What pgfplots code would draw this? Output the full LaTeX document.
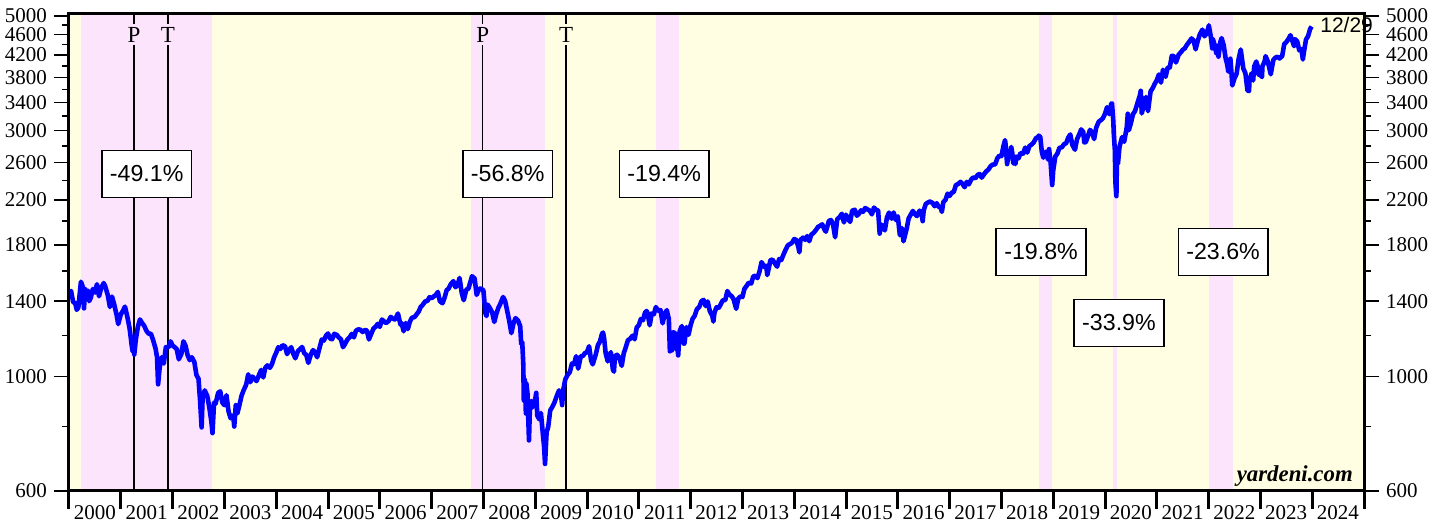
\documentclass[border=0pt]{standalone}
\usepackage{fontspec}
\setmainfont{Liberation Serif}
\setsansfont{Liberation Sans}
\usepackage{pgfplots}
\usepackage{pgfplotstable}
\pgfplotsset{compat=1.18}
\definecolor{bgy}{RGB}{255,254,226}
\definecolor{bearpink}{RGB}{252,228,252}

\pgfplotstableread{
x y
2000.00 1455
2000.04 1465
2000.08 1394
2000.12 1388
2000.15 1347
2000.18 1360
2000.21 1456
2000.23 1527
2000.26 1499
2000.29 1356
2000.31 1480
2000.34 1452
2000.37 1466
2000.39 1400
2000.42 1421
2000.46 1478
2000.50 1455
2000.54 1510
2000.58 1431
2000.62 1484
2000.67 1518
2000.70 1495
2000.75 1437
2000.79 1364
2000.83 1429
2000.87 1383
2000.92 1315
2000.95 1264
2001.00 1320
2001.04 1340
2001.08 1366
2001.12 1315
2001.17 1240
2001.21 1150
2001.23 1118
2001.25 1160
2001.26 1103
2001.29 1180
2001.33 1249
2001.37 1290
2001.41 1270
2001.45 1255
2001.50 1224
2001.54 1210
2001.58 1211
2001.62 1180
2001.67 1134
2001.70 1090
2001.72 966
2001.75 1041
2001.79 1090
2001.83 1060
2001.87 1140
2001.92 1139
2001.96 1170
2002.00 1148
2002.04 1140
2002.08 1130
2002.12 1080
2002.17 1107
2002.21 1170
2002.25 1147
2002.29 1100
2002.33 1076
2002.37 1090
2002.42 1067
2002.46 1007
2002.50 990
2002.53 900
2002.56 797
2002.58 912
2002.62 940
2002.67 916
2002.71 870
2002.75 815
2002.77 777
2002.80 890
2002.83 886
2002.88 930
2002.92 936
2002.96 890
2003.00 880
2003.04 920
2003.08 856
2003.12 830
2003.17 841
2003.19 800
2003.22 880
2003.25 848
2003.29 880
2003.33 917
2003.37 940
2003.42 964
2003.46 1010
2003.50 975
2003.54 1000
2003.58 990
2003.62 980
2003.67 1008
2003.71 1030
2003.75 996
2003.79 1040
2003.83 1051
2003.88 1040
2003.92 1058
2003.96 1090
2004.00 1112
2004.04 1140
2004.08 1131
2004.12 1150
2004.17 1145
2004.21 1105
2004.25 1126
2004.29 1140
2004.33 1107
2004.37 1085
2004.42 1121
2004.46 1130
2004.50 1141
2004.54 1110
2004.58 1102
2004.62 1063
2004.67 1104
2004.71 1125
2004.75 1115
2004.79 1090
2004.83 1130
2004.88 1180
2004.92 1174
2004.96 1200
2005.00 1212
2005.04 1185
2005.08 1181
2005.12 1210
2005.17 1204
2005.21 1190
2005.25 1181
2005.29 1140
2005.33 1157
2005.37 1178
2005.42 1192
2005.46 1210
2005.50 1191
2005.54 1227
2005.58 1234
2005.62 1233
2005.67 1220
2005.71 1230
2005.75 1229
2005.79 1180
2005.83 1207
2005.88 1240
2005.92 1249
2005.96 1265
2006.00 1248
2006.04 1290
2006.08 1280
2006.12 1270
2006.17 1281
2006.21 1305
2006.25 1295
2006.29 1290
2006.33 1311
2006.35 1325
2006.40 1260
2006.42 1270
2006.46 1224
2006.50 1270
2006.54 1236
2006.58 1277
2006.62 1300
2006.67 1304
2006.71 1320
2006.75 1336
2006.79 1365
2006.83 1378
2006.88 1400
2006.92 1401
2006.96 1425
2007.00 1418
2007.04 1430
2007.08 1438
2007.12 1459
2007.16 1400
2007.21 1387
2007.25 1421
2007.29 1470
2007.33 1482
2007.37 1510
2007.42 1531
2007.46 1490
2007.50 1503
2007.54 1553
2007.58 1455
2007.62 1406
2007.67 1474
2007.71 1480
2007.75 1527
2007.78 1565
2007.83 1549
2007.87 1440
2007.92 1481
2007.96 1480
2008.00 1468
2008.04 1325
2008.06 1310
2008.08 1379
2008.12 1360
2008.17 1331
2008.21 1276
2008.25 1323
2008.29 1360
2008.33 1386
2008.38 1426
2008.42 1400
2008.46 1340
2008.50 1280
2008.54 1214
2008.58 1267
2008.62 1298
2008.67 1283
2008.71 1252
2008.73 1156
2008.75 1166
2008.77 1056
2008.78 899
2008.80 985
2008.82 848
2008.83 969
2008.85 930
2008.88 752
2008.90 888
2008.92 896
2008.94 870
2008.96 890
2009.00 903
2009.02 930
2009.04 840
2009.08 826
2009.11 850
2009.15 770
2009.17 735
2009.19 677
2009.22 780
2009.25 798
2009.29 860
2009.33 873
2009.37 890
2009.42 919
2009.46 940
2009.50 919
2009.52 880
2009.54 940
2009.58 987
2009.62 1005
2009.67 1021
2009.71 1060
2009.75 1057
2009.79 1095
2009.83 1036
2009.88 1095
2009.92 1096
2009.96 1110
2010.00 1115
2010.04 1145
2010.08 1074
2010.11 1056
2010.17 1104
2010.21 1150
2010.25 1169
2010.29 1211
2010.31 1217
2010.33 1187
2010.36 1110
2010.40 1070
2010.42 1089
2010.46 1115
2010.50 1031
2010.52 1022
2010.54 1095
2010.58 1102
2010.62 1090
2010.67 1049
2010.71 1110
2010.75 1141
2010.79 1176
2010.83 1183
2010.88 1200
2010.92 1181
2010.96 1245
2011.00 1258
2011.04 1293
2011.08 1286
2011.12 1330
2011.15 1340
2011.17 1327
2011.21 1257
2011.25 1326
2011.29 1320
2011.33 1364
2011.37 1340
2011.42 1345
2011.46 1268
2011.50 1321
2011.54 1345
2011.58 1292
2011.60 1119
2011.62 1204
2011.64 1124
2011.67 1219
2011.71 1210
2011.73 1129
2011.75 1131
2011.76 1099
2011.79 1225
2011.83 1253
2011.86 1160
2011.88 1158
2011.92 1247
2011.96 1205
2012.00 1258
2012.04 1295
2012.08 1312
2012.12 1350
2012.17 1366
2012.21 1400
2012.25 1408
2012.29 1370
2012.33 1398
2012.37 1340
2012.42 1310
2012.44 1278
2012.46 1330
2012.50 1362
2012.54 1357
2012.58 1379
2012.62 1405
2012.67 1407
2012.71 1465
2012.75 1441
2012.79 1433
2012.83 1412
2012.88 1353
2012.92 1416
2012.96 1430
2013.00 1426
2013.04 1480
2013.08 1498
2013.12 1520
2013.17 1515
2013.21 1563
2013.25 1569
2013.29 1552
2013.33 1598
2013.37 1667
2013.42 1631
2013.46 1640
2013.48 1573
2013.50 1606
2013.54 1680
2013.58 1686
2013.62 1661
2013.67 1633
2013.71 1690
2013.75 1682
2013.79 1721
2013.83 1757
2013.88 1798
2013.92 1806
2013.96 1818
2014.00 1848
2014.04 1840
2014.08 1783
2014.10 1741
2014.12 1840
2014.17 1859
2014.21 1841
2014.25 1872
2014.29 1830
2014.33 1884
2014.37 1897
2014.42 1924
2014.46 1951
2014.50 1960
2014.54 1973
2014.58 1931
2014.61 1909
2014.67 2003
2014.71 2011
2014.75 1972
2014.79 1862
2014.83 2018
2014.88 2040
2014.92 2068
2014.96 1990
2015.00 2059
2015.04 2020
2015.08 1995
2015.12 2097
2015.17 2105
2015.21 2050
2015.25 2068
2015.29 2100
2015.33 2086
2015.37 2122
2015.42 2107
2015.46 2096
2015.50 2063
2015.54 2126
2015.58 2104
2015.62 2100
2015.65 1893
2015.67 1972
2015.71 1960
2015.75 1920
2015.79 2033
2015.83 2079
2015.88 2023
2015.92 2080
2015.96 2012
2016.00 2044
2016.04 1880
2016.08 1940
2016.11 1829
2016.17 1932
2016.21 2027
2016.25 2060
2016.29 2094
2016.33 2065
2016.37 2047
2016.42 2097
2016.46 2071
2016.48 2001
2016.50 2099
2016.54 2161
2016.58 2174
2016.62 2184
2016.67 2171
2016.71 2139
2016.75 2168
2016.79 2133
2016.83 2126
2016.85 2085
2016.88 2180
2016.92 2199
2016.96 2262
2017.00 2239
2017.04 2272
2017.08 2279
2017.12 2349
2017.17 2364
2017.21 2385
2017.25 2363
2017.29 2328
2017.33 2384
2017.37 2358
2017.42 2412
2017.46 2433
2017.50 2423
2017.54 2459
2017.58 2470
2017.62 2430
2017.67 2472
2017.71 2500
2017.75 2519
2017.79 2557
2017.83 2575
2017.88 2579
2017.92 2648
2017.96 2680
2018.00 2674
2018.04 2798
2018.07 2873
2018.08 2824
2018.11 2581
2018.15 2732
2018.17 2714
2018.19 2787
2018.21 2712
2018.23 2588
2018.25 2641
2018.27 2581
2018.29 2670
2018.33 2648
2018.37 2712
2018.42 2705
2018.46 2779
2018.50 2718
2018.54 2798
2018.58 2816
2018.62 2840
2018.67 2902
2018.70 2905
2018.72 2931
2018.75 2914
2018.78 2728
2018.81 2656
2018.83 2712
2018.87 2730
2018.90 2633
2018.92 2760
2018.95 2600
2018.98 2351
2019.00 2507
2019.04 2670
2019.08 2704
2019.12 2775
2019.17 2784
2019.21 2822
2019.25 2834
2019.29 2905
2019.33 2946
2019.37 2812
2019.42 2752
2019.46 2886
2019.50 2942
2019.54 3014
2019.58 2980
2019.60 2844
2019.63 2847
2019.67 2926
2019.71 3007
2019.75 2977
2019.79 2887
2019.83 3038
2019.88 3120
2019.92 3141
2019.96 3168
2020.00 3231
2020.04 3329
2020.08 3226
2020.12 3380
2020.135 3386
2020.16 3128
2020.17 2954
2020.19 2746
2020.20 2386
2020.22 2237
2020.23 2630
2020.25 2585
2020.28 2790
2020.33 2912
2020.37 2852
2020.42 3044
2020.44 3232
2020.46 3002
2020.50 3100
2020.54 3226
2020.58 3271
2020.62 3373
2020.67 3500
2020.69 3580
2020.71 3237
2020.75 3363
2020.79 3483
2020.83 3270
2020.88 3572
2020.92 3622
2020.96 3694
2021.00 3756
2021.04 3851
2021.08 3714
2021.12 3934
2021.17 3811
2021.21 3974
2021.25 3973
2021.29 4185
2021.33 4181
2021.37 4063
2021.42 4204
2021.46 4247
2021.50 4298
2021.54 4327
2021.58 4395
2021.62 4448
2021.67 4523
2021.71 4480
2021.75 4308
2021.79 4471
2021.83 4605
2021.88 4704
2021.92 4567
2021.96 4620
2022.00 4766
2022.003 4797
2022.04 4577
2022.07 4327
2022.08 4516
2022.12 4380
2022.15 4226
2022.17 4374
2022.19 4171
2022.23 4463
2022.25 4530
2022.29 4393
2022.33 4132
2022.36 4023
2022.38 3901
2022.42 4132
2022.44 3900
2022.457 3667
2022.50 3785
2022.54 3863
2022.58 4130
2022.62 4305
2022.67 3955
2022.71 3874
2022.75 3586
2022.78 3577
2022.79 3752
2022.83 3872
2022.86 3749
2022.88 3992
2022.92 4080
2022.95 3990
2022.96 3852
2023.00 3840
2023.03 3808
2023.04 3999
2023.08 4077
2023.10 4179
2023.14 4090
2023.17 3970
2023.20 3855
2023.22 3960
2023.25 4109
2023.29 4151
2023.33 4169
2023.37 4136
2023.42 4180
2023.46 4410
2023.50 4450
2023.54 4510
2023.58 4589
2023.62 4465
2023.65 4370
2023.67 4508
2023.71 4467
2023.75 4288
2023.79 4314
2023.82 4117
2023.83 4194
2023.88 4502
2023.92 4568
2023.96 4719
2023.99 4770
}\spx

\tikzset{pbox/.style={draw=black, line width=0.8pt, fill=white, inner xsep=4pt, minimum height=23.5pt, font=\sffamily\fontsize{11.6}{14}\selectfont}}

\begin{document}
\begin{tikzpicture}
% Axis A: background, data, x axis
\begin{axis}[
  scale only axis, width=647.5pt, height=238.5pt,
  at={(0,0)}, anchor=south west,
  xmin=2000, xmax=2025, ymode=log, ymin=600, ymax=5045,
  axis line style={line width=1.5pt, black},
  tick label style={font=\fontsize{10.5}{12}\selectfont},
  tick align=outside,
  axis background/.style={fill=bgy},
  clip=false,
  ytick=\empty,
  xtick={2000.5,2001.5,...,2024.5},
  xticklabels={2000,2001,2002,2003,2004,2005,2006,2007,2008,2009,2010,2011,2012,2013,2014,2015,2016,2017,2018,2019,2020,2021,2022,2023,2024},
  major tick length=0pt,
  xtick pos=bottom,
  xticklabel style={yshift=-3.5pt},
  extra x ticks={2000,2001,...,2025},
  extra x tick labels={},
  extra x tick style={major tick length=9pt, tick style={line width=1.5pt, black}},
]
\fill[bearpink] (axis cs:2000.23,600) rectangle (axis cs:2002.77,5045);
\fill[bearpink] (axis cs:2007.77,600) rectangle (axis cs:2009.19,5045);
\fill[bearpink] (axis cs:2011.33,600) rectangle (axis cs:2011.77,5045);
\fill[bearpink] (axis cs:2018.72,600) rectangle (axis cs:2018.98,5045);
\fill[bearpink] (axis cs:2020.15,600) rectangle (axis cs:2020.24,5045);
\fill[bearpink] (axis cs:2022.00,600) rectangle (axis cs:2022.47,5045);

\draw[black, line width=0.6pt] (axis cs:2001.255,600) -- (axis cs:2001.255,5045);
\draw[black, line width=0.6pt] (axis cs:2001.91,600) -- (axis cs:2001.91,5045);
\draw[black, line width=0.6pt] (axis cs:2007.99,600) -- (axis cs:2007.99,5045);
\draw[black, line width=0.6pt] (axis cs:2009.595,600) -- (axis cs:2009.595,5045);
\node[fill=bearpink, inner sep=1.5pt, font=\fontsize{11.5}{13}\selectfont] at (axis cs:2001.255,4600) {P};
\node[fill=bearpink, inner sep=1.5pt, font=\fontsize{11.5}{13}\selectfont] at (axis cs:2001.91,4600) {T};
\node[fill=bearpink, inner sep=1.5pt, font=\fontsize{11.5}{13}\selectfont] at (axis cs:2007.99,4600) {P};
\node[fill=bgy, inner sep=1.5pt, font=\fontsize{11.5}{13}\selectfont] at (axis cs:2009.595,4600) {T};

\addplot[blue, line width=2.3pt, line join=round] table[x=x, y=y] {\spx};

\node[pbox] at (axis cs:2001.5,2470) {-49.1\%};
\node[pbox] at (axis cs:2008.47,2470) {-56.8\%};
\node[pbox] at (axis cs:2011.49,2470) {-19.4\%};
\node[pbox] at (axis cs:2018.765,1744) {-19.8\%};
\node[pbox] at (axis cs:2020.27,1270) {-33.9\%};
\node[pbox] at (axis cs:2022.28,1744) {-23.6\%};

\node[anchor=base east, inner sep=0pt, font=\bfseries\itshape\fontsize{11.4}{13}\selectfont] at (axis cs:2024.79,624.6) {yardeni.com};
\end{axis}

% Axis B: left y axis
\begin{axis}[
  scale only axis, width=647.5pt, height=238.5pt,
  at={(0,0)}, anchor=south west,
  xmin=2000, xmax=2025, ymode=log, ymin=600, ymax=5045,
  axis line style={line width=1.5pt, black},
  tick label style={font=\fontsize{10.5}{12}\selectfont},
  tick align=outside,
  xtick=\empty,
  ytick={600,1000,1400,1800,2200,2600,3000,3400,3800,4200,4600,5000},
  yticklabels={600,1000,1400,1800,2200,2600,3000,3400,3800,4200,4600,5000},
  minor ytick={800,1200,1600,2000,2400,2800,3200,3600,4000,4400,4800},
  ytick pos=left,
  major tick length=7.5pt, minor tick length=3.5pt,
  tick style={black, line width=0.8pt},
]
\addplot[draw=none] coordinates {(2010,1000)};
\end{axis}

% Axis C: right y axis
\begin{axis}[
  scale only axis, width=647.5pt, height=238.5pt,
  at={(0,0)}, anchor=south west,
  xmin=2000, xmax=2025, ymode=log, ymin=600, ymax=5045,
  axis line style={line width=1.5pt, black},
  tick label style={font=\fontsize{10.5}{12}\selectfont},
  tick align=outside,
  xtick=\empty,
  clip=false,
  ytick={600,1000,1400,1800,2200,2600,3000,3400,3800,4200,4600,5000},
  yticklabels={600,1000,1400,1800,2200,2600,3000,3400,3800,4200,4600,5000},
  minor ytick={800,1200,1600,2000,2400,2800,3200,3600,4000,4400,4800},
  ytick pos=right, yticklabel pos=right,
  major tick length=7.5pt, minor tick length=3.5pt,
  tick style={black, line width=0.8pt},
]
\addplot[draw=none] coordinates {(2010,1000)};
\node[anchor=west, inner sep=0pt, font=\sffamily\fontsize{10.5}{12}\selectfont] at (axis cs:2024.15,4800) {12/29};
\end{axis}

\pgfresetboundingbox
\path[use as bounding box] (-34.5pt,-16pt) rectangle (688.5pt,245.5pt);
\end{tikzpicture}
\end{document}
